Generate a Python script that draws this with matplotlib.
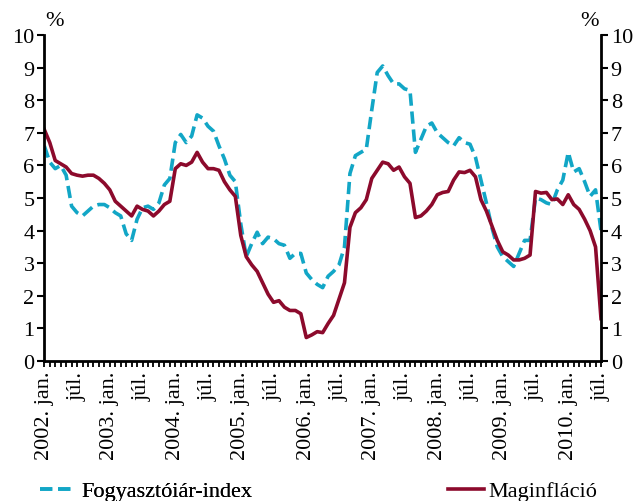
import matplotlib
matplotlib.use("Agg")
import matplotlib.pyplot as plt
from matplotlib.ticker import FixedLocator, MultipleLocator
import numpy as np

plt.rcParams['font.family'] = ['Liberation Serif', 'DejaVu Serif']

# Monthly data, 2002 jan. .. 2010 júl.
cpi = [6.6, 6.1, 5.9, 6.0, 5.7, 4.75, 4.55, 4.45, 4.6, 4.75, 4.8, 4.8,
       4.7, 4.55, 4.45, 3.9, 3.7, 4.35, 4.7, 4.75, 4.65, 4.85, 5.4, 5.6,
       6.7, 6.95, 6.7, 6.9, 7.55, 7.45, 7.2, 7.05, 6.6, 6.2, 5.7, 5.5,
       4.2, 3.2, 3.6, 3.95, 3.6, 3.8, 3.75, 3.6, 3.55, 3.15, 3.3, 3.3,
       2.7, 2.5, 2.35, 2.25, 2.6, 2.75, 2.95, 3.5, 5.75, 6.3, 6.4, 6.5,
       7.7, 8.85, 9.05, 8.75, 8.5, 8.5, 8.35, 8.3, 6.4, 6.8, 7.2, 7.3,
       7.0, 6.85, 6.7, 6.6, 6.85, 6.7, 6.65, 6.25, 5.55, 4.85, 4.1, 3.5,
       3.2, 3.05, 2.9, 3.3, 3.7, 3.7, 5.0, 4.95, 4.85, 4.8, 5.25, 5.55,
       6.4, 5.8, 5.9, 5.5, 5.05, 5.25, 4.0]
core = [7.1, 6.7, 6.15, 6.05, 5.95, 5.75, 5.7, 5.67, 5.7, 5.7, 5.6, 5.45,
        5.25, 4.9, 4.75, 4.6, 4.45, 4.75, 4.65, 4.6, 4.45, 4.6, 4.8, 4.9,
        5.9, 6.05, 6.0, 6.1, 6.4, 6.1, 5.9, 5.9, 5.85, 5.5, 5.25, 5.05,
        3.85, 3.2, 2.95, 2.75, 2.4, 2.05, 1.8, 1.85, 1.65, 1.55, 1.55, 1.45,
        0.72, 0.8, 0.9, 0.87, 1.15, 1.4, 1.9, 2.4, 4.1, 4.55, 4.7, 4.95,
        5.6, 5.85, 6.1, 6.05, 5.85, 5.95, 5.65, 5.45, 4.4, 4.45, 4.6, 4.8,
        5.1, 5.17, 5.2, 5.55, 5.8, 5.78, 5.85, 5.65, 4.95, 4.6, 4.15, 3.7,
        3.35, 3.25, 3.1, 3.1, 3.15, 3.25, 5.2, 5.15, 5.17, 4.95, 4.97, 4.8,
        5.1, 4.8, 4.65, 4.35, 4.0, 3.5, 1.3]
years = list(range(2002, 2011))
tick_labels = []
for y in years:
    tick_labels.append(f"{y}. jan.")
    tick_labels.append("júl.")
series_names = ["Fogyasztóiár-index", "Maginfláció"]

n = len(cpi)
x = np.arange(n)
FS = 16

fig = plt.figure(figsize=(6.37, 5.02), dpi=100)
ax = fig.add_axes([44.3/637, 1-362/502, (601-44.3)/637, (362-36)/502])

cyan = '#12A6C6'
red = '#8C0A2C'
l1, = ax.plot(x, cpi, color=cyan, lw=2.6, dashes=(3.4, 1.6), label=series_names[0])
l2, = ax.plot(x, core, color=red, lw=2.6, label=series_names[1])

ax.set_xlim(0, n - 1)
ax.set_ylim(0, 10)
ax.yaxis.set_major_locator(MultipleLocator(1))
ax.tick_params(axis='y', which='both', direction='out', length=5, width=1.5,
               labelsize=FS, right=True, labelright=True, pad=2)
major = list(range(0, n, 6))
ax.xaxis.set_major_locator(FixedLocator(major))
ax.xaxis.set_minor_locator(FixedLocator(list(range(n))))
ax.set_xticklabels(tick_labels[:len(major)], rotation=90, fontsize=FS)
ax.tick_params(axis='x', which='both', direction='out', length=4, width=1.3, pad=3)

for s in ['left', 'right', 'bottom']:
    ax.spines[s].set_linewidth(2)
ax.spines['top'].set_visible(False)

fig.text(45/637, 1-21/502, '%', fontsize=FS, ha='left', va='center')
fig.text(599/637, 1-21/502, '%', fontsize=FS, ha='right', va='center')

leg1 = fig.legend(handles=[l1], loc='center left', bbox_to_anchor=(40/637, 1-492/502),
                  frameon=False, fontsize=FS, handlelength=1.6, handletextpad=0.25,
                  borderpad=0, borderaxespad=0)
fig.add_artist(leg1)
fig.legend(handles=[l2], loc='center right', bbox_to_anchor=(597/637, 1-492/502),
           frameon=False, fontsize=FS, handlelength=1.6, handletextpad=0.2,
           borderpad=0, borderaxespad=0)

fig.savefig('out.png', dpi=100)
